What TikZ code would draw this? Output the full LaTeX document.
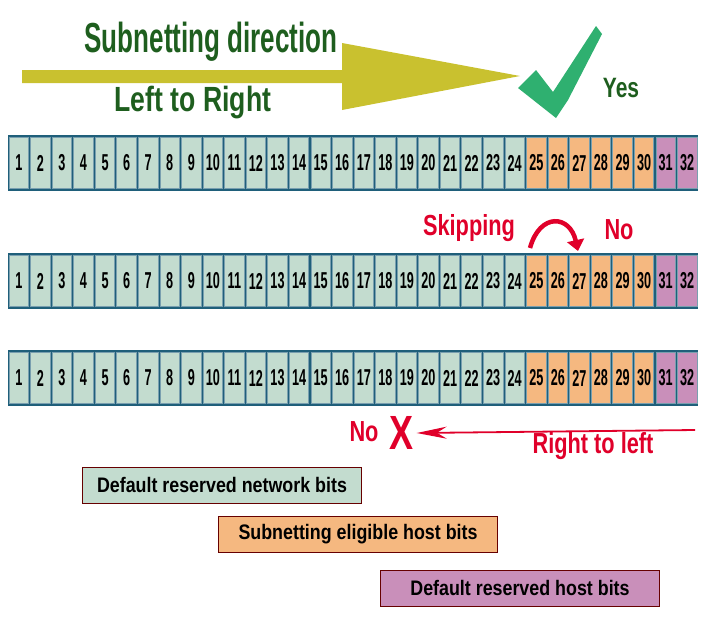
\documentclass[tikz,border=0pt]{standalone}
\usepackage{fontspec}
\setmainfont{Liberation Sans}
\usepackage{tikz}
\usetikzlibrary{positioning,arrows.meta}
\definecolor{netgreen}{HTML}{C3DCCF}
\definecolor{hostorange}{HTML}{F5B880}
\definecolor{hostpurple}{HTML}{C98FBA}
\definecolor{frameblue}{HTML}{1F5F7A}
\definecolor{darkgreen}{HTML}{1E5E1E}
\definecolor{olive}{HTML}{C9C12F}
\definecolor{tickgreen}{HTML}{2FB070}
\definecolor{alertred}{HTML}{E0002A}
\tikzset{
  bit/.style={draw=frameblue!60, line width=0.8pt, minimum width=19.5pt, minimum height=51pt, inner sep=0pt, font=\bfseries\fontsize{23}{23}\selectfont},
  legend/.style={draw=black!60!red, line width=0.8pt, minimum width=279pt, minimum height=36pt, inner sep=0pt, font=\bfseries\fontsize{21}{21}\selectfont},
  redtext/.style={text=alertred, font=\bfseries\fontsize{29}{29}\selectfont}
}
\begin{document}
\begin{tikzpicture}[x=1pt,y=-1pt]
\useasboundingbox (0,0) rectangle (712,619);
% bit rows
\foreach \row/\ytop in {a/135,b/253,c/350}{
  \fill[frameblue] (8,\ytop) rectangle (698,\ytop+56);
  \foreach \i in {1,...,32}{
    \pgfmathsetmacro{\xc}{8+(\i-0.5)*21.5625}
    \ifnum\i<25 \def\bitcol{netgreen}\else\ifnum\i<31 \def\bitcol{hostorange}\else\def\bitcol{hostpurple}\fi\fi
    \node[bit, fill=\bitcol] (\row\i) at (\xc,\ytop+28) {\scalebox{0.55}[1]{\i}};
  }
}
% subnetting direction
\fill[olive] (22,70) -- (342,70) -- (342,43) -- (520,76) -- (342,110) -- (342,83) -- (22,83) -- cycle;
\node[text=darkgreen, font=\bfseries\fontsize{42}{42}\selectfont, xscale=0.62] (dir) at (211,42) {Subnetting direction};
\node[text=darkgreen, font=\bfseries\fontsize{35}{35}\selectfont, xscale=0.76] (ltr) at (193,103) {Left to Right};
\fill[tickgreen] (518,88) -- (536,70) -- (553,92) -- (596,26) -- (602,34) -- (568,100) -- (556,118) -- cycle;
\node[text=darkgreen, font=\bfseries\fontsize{28}{28}\selectfont, xscale=0.75] (yes) at (621,88) {Yes};
% skipping
\node[redtext, xscale=0.75] (skip) at (469,228) {Skipping};
\node[redtext, xscale=0.75] (no1) at (619,230) {No};
\coordinate (sk1) at (530,248);
\coordinate (sk2) at (578,251);
\draw[alertred, line width=4.5pt, -{Triangle[width=17pt,length=11pt]}] (sk1) .. controls (540,212) and (570,215) .. (sk2);
% right to left
\node[redtext, xscale=0.75] (no2) at (364,432) {No};
\node[text=alertred, font=\bfseries\fontsize{48}{48}\selectfont, xscale=0.75] (cross) at (402,433) {X};
\coordinate (rtl) at (695,430);
\draw[alertred, line width=1.8pt, -{Stealth[width=12pt,length=30pt]}] (rtl) -- (cross.east);
\node[redtext, xscale=0.75] (rtltext) at (593,446) {Right to left};
% legend
\node[legend, fill=netgreen] (lnet) at (222,485) {\scalebox{0.85}[1]{Default reserved network bits}};
\node[legend, fill=hostorange] (lsub) at (358,534) {\scalebox{0.85}[1]{Subnetting eligible host bits}};
\node[legend, fill=hostpurple] (lhost) at (520,588) {\scalebox{0.85}[1]{Default reserved host bits}};
\end{tikzpicture}
\end{document}
